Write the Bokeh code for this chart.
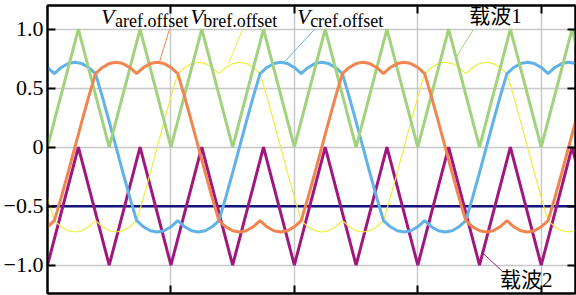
from bokeh.plotting import figure
from bokeh.models import Range1d, LinearAxis, FixedTicker, Label
from bokeh.embed import file_html
from bokeh.resources import INLINE

# ---- data (electrical angle in degrees, values per unit) ----
angle_deg = list(range(0, 780, 10))

v_aref = [-0.675, -0.623, -0.426, -0.216, 0.0, 0.216, 0.426, 0.623, 0.675, 0.708,
          0.719, 0.708, 0.675, 0.623, 0.675, 0.708, 0.719, 0.708, 0.675, 0.623,
          0.426, 0.216, 0.0, -0.216, -0.426, -0.623, -0.675, -0.708, -0.719, -0.708,
          -0.675, -0.623, -0.675, -0.708, -0.719, -0.708,
          -0.675, -0.623, -0.426, -0.216, 0.0, 0.216, 0.426, 0.623, 0.675, 0.708,
          0.719, 0.708, 0.675, 0.623, 0.675, 0.708, 0.719, 0.708, 0.675, 0.623,
          0.426, 0.216, 0.0, -0.216, -0.426, -0.623, -0.675, -0.708, -0.719, -0.708,
          -0.675, -0.623, -0.675, -0.708, -0.719, -0.708,
          -0.675, -0.623, -0.426, -0.216, 0.0, 0.216]

v_bref = [-0.426, -0.623, -0.675, -0.708, -0.719, -0.708, -0.675, -0.623, -0.675, -0.708,
          -0.719, -0.708, -0.675, -0.623, -0.426, -0.216, 0.0, 0.216, 0.426, 0.623,
          0.675, 0.708, 0.719, 0.708, 0.675, 0.623, 0.675, 0.708, 0.719, 0.708,
          0.675, 0.623, 0.426, 0.216, 0.0, -0.216,
          -0.426, -0.623, -0.675, -0.708, -0.719, -0.708, -0.675, -0.623, -0.675, -0.708,
          -0.719, -0.708, -0.675, -0.623, -0.426, -0.216, 0.0, 0.216, 0.426, 0.623,
          0.675, 0.708, 0.719, 0.708, 0.675, 0.623, 0.675, 0.708, 0.719, 0.708,
          0.675, 0.623, 0.426, 0.216, 0.0, -0.216,
          -0.426, -0.623, -0.675, -0.708, -0.719, -0.708]

v_cref = [0.675, 0.623, 0.675, 0.708, 0.719, 0.708, 0.675, 0.623, 0.426, 0.216,
          0.0, -0.216, -0.426, -0.623, -0.675, -0.708, -0.719, -0.708, -0.675, -0.623,
          -0.675, -0.708, -0.719, -0.708, -0.675, -0.623, -0.426, -0.216, 0.0, 0.216,
          0.426, 0.623, 0.675, 0.708, 0.719, 0.708,
          0.675, 0.623, 0.675, 0.708, 0.719, 0.708, 0.675, 0.623, 0.426, 0.216,
          0.0, -0.216, -0.426, -0.623, -0.675, -0.708, -0.719, -0.708, -0.675, -0.623,
          -0.675, -0.708, -0.719, -0.708, -0.675, -0.623, -0.426, -0.216, 0.0, 0.216,
          0.426, 0.623, 0.675, 0.708, 0.719, 0.708,
          0.675, 0.623, 0.675, 0.708, 0.719, 0.708]

carrier_x = [0, 45, 90, 135, 180, 225, 270, 315, 360, 405, 450, 495, 540, 585,
             630, 675, 720, 765, 810]
carrier1 = [0, 1, 0, 1, 0, 1, 0, 1, 0, 1, 0, 1, 0, 1, 0, 1, 0, 1, 0]
carrier2 = [-1, 0, -1, 0, -1, 0, -1, 0, -1, 0, -1, 0, -1, 0, -1, 0, -1, 0, -1]

level_x = [0, 770]
level_y = [-0.5, -0.5]

y_ticks = [-1.0, -0.5, 0, 0.5, 1.0]
y_tick_labels = ["\u22121.0", "\u22120.5", "0", "0.5", "1.0"]
x_ticks = [180, 360, 540, 720]

# ---- figure ----
p = figure(width=576, height=295, x_range=Range1d(0, 770), y_range=Range1d(-1.24, 1.2),
           output_backend="svg", toolbar_location=None,
           min_border_left=45, min_border_right=1, min_border_top=5, min_border_bottom=2)
p.background_fill_color = "white"
p.border_fill_color = "white"
p.outline_line_color = "black"
p.outline_line_width = 2

SERIF = "Liberation Serif"


def style_axis(ax, ticks, labels=None):
    ax.ticker = FixedTicker(ticks=ticks)
    ax.major_tick_in = 8
    ax.major_tick_out = 0
    ax.minor_tick_line_color = None
    ax.axis_line_width = 2
    ax.axis_line_color = "black"
    ax.major_tick_line_width = 2
    ax.major_tick_line_color = "black"
    if labels is None:
        ax.major_label_overrides = {t: "" for t in ticks}
        ax.major_label_text_font_size = "1px"
        ax.major_label_standoff = 0
    else:
        ax.major_label_overrides = {t: l for t, l in zip(ticks, labels)}
        ax.major_label_text_font = SERIF
        ax.major_label_text_font_size = "22px"
        ax.major_label_text_color = "black"
        ax.major_label_standoff = 4


style_axis(p.yaxis[0], y_ticks, y_tick_labels)
style_axis(p.xaxis[0], x_ticks)
top_axis = LinearAxis()
right_axis = LinearAxis()
style_axis(top_axis, x_ticks)
style_axis(right_axis, y_ticks)
p.add_layout(top_axis, "above")
p.add_layout(right_axis, "right")

p.xgrid.ticker = FixedTicker(ticks=x_ticks)
p.ygrid.ticker = FixedTicker(ticks=y_ticks)
for g in (p.xgrid[0], p.ygrid[0]):
    g.grid_line_color = "#c8c8c8"
    g.grid_line_width = 1.5

# ---- curves ----
p.line(level_x, level_y, line_color="#14147a", line_width=2.5)
p.line(carrier_x, carrier2, line_color="#a0187e", line_width=3)
p.line(angle_deg, v_bref, line_color="#eded3a", line_width=1.2)
p.line(angle_deg, v_cref, line_color="#62b2ea", line_width=3)
p.line(carrier_x, carrier1, line_color="#a2d27e", line_width=3)
p.line(angle_deg, v_aref, line_color="#f0854f", line_width=3)

# ---- leader lines ----
p.segment(x0=[177.5, 284.7, 389.8, 620.6, 632.7], y0=[0.992, 1.0, 1.0, 0.992, -0.887],
          x1=[162.9, 264.3, 345.7, 596.4, 664.3], y1=[0.712, 0.712, 0.723, 0.765, -1.057],
          line_color=["#f0854f", "#eded3a", "#62b2ea", "#a2d27e", "#a0187e"], line_width=1)

# ---- labels ----
for vx, sx, sub in [(78.0, 98.5, "aref.offset"), (208.0, 227.0, "bref.offset"),
                    (364.0, 383.0, "cref.offset")]:
    p.add_layout(Label(x=vx, y=1.11, text="V", text_font=SERIF, text_font_style="italic",
                       text_font_size="22px", text_baseline="alphabetic", text_color="black"))
    p.add_layout(Label(x=sx, y=1.068, text=sub, text_font=SERIF,
                       text_font_size="18px", text_baseline="alphabetic", text_color="black"))

CJK = "'Liberation Serif', 'Noto Sans CJK SC'"
p.add_layout(Label(x=615.0, y=1.11, text="载波1", text_font=CJK, text_font_size="21px",
                   text_baseline="middle", text_color="black"))
p.add_layout(Label(x=660.0, y=-1.127, text="载波2", text_font=CJK, text_font_size="21px",
                   text_baseline="middle", text_color="black"))

open("out.html", "w").write(file_html(p, INLINE))
